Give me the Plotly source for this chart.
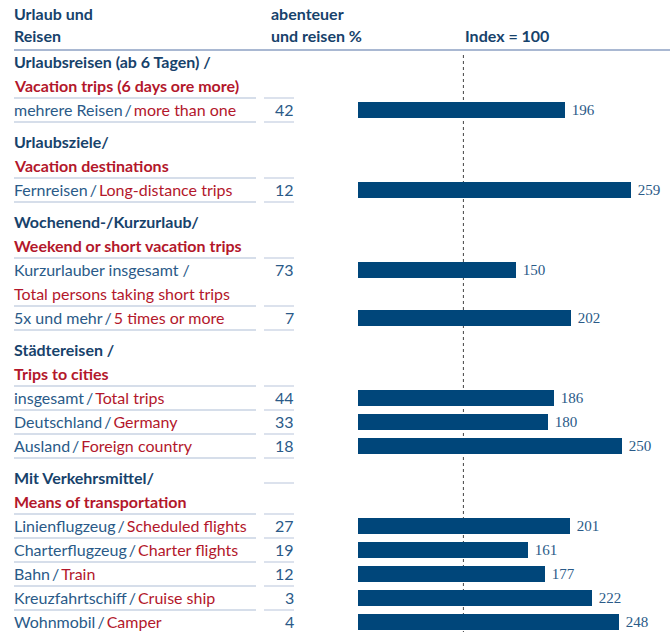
import plotly.graph_objects as go

# ---- data ----
section_de = ["Urlaubsreisen (ab 6 Tagen) /", "Urlaubsziele/", "Wochenend-/Kurzurlaub/",
              "Städtereisen /", "Mit Verkehrsmittel/"]
section_en = ["Vacation trips (6 days ore more)", "Vacation destinations",
              "Weekend or short vacation trips", "Trips to cities", "Means of transportation"]
row_section = [0, 1, 2, 2, 3, 3, 3, 4, 4, 4, 4, 4]
row_de = ["mehrere Reisen", "Fernreisen", "Kurzurlauber insgesamt", "5x und mehr",
          "insgesamt", "Deutschland", "Ausland",
          "Linienflugzeug", "Charterflugzeug", "Bahn", "Kreuzfahrtschiff", "Wohnmobil"]
row_en = ["more than one", "Long-distance trips", "Total persons taking short trips",
          "5 times or more", "Total trips", "Germany", "Foreign country",
          "Scheduled flights", "Charter flights", "Train", "Cruise ship", "Camper"]
row_wrap = [False, False, True, False, False, False, False, False, False, False, False, False]
row_pct = [42, 12, 73, 7, 44, 33, 18, 27, 19, 12, 3, 4]
row_index = [196, 259, 150, 202, 186, 180, 250, 201, 161, 177, 222, 248]
header_left = ["Urlaub und", "Reisen"]
header_mid = ["abenteuer", "und reisen %"]
header_right = "Index = 100"
index_base = 100

# ---- styling / layout ----
W, H = 670, 632
BLUE = "#2a5a88"
NAVY = "#17426b"
RED = "#b3172b"
BAR = "#00467a"
SEP = "#c9d3e3"
FONT = "Lato"
FS = 16
LINE, GAP, TOP = 24, 8, 62
X_TEXT = 12
X_LEFT, X_LEFT_END = 14, 256
X_NUM0, X_NUM1 = 264, 294
X_BAR0 = 358
PX_PER_UNIT = 1.054

def px(x):
    return x / W

annotations = []
shapes = []

def text(x, y, s, color, bold=False, anchor="left", font=FONT, size=FS):
    annotations.append(dict(
        x=px(x), xref="paper", y=y, yref="y", text=("<b>%s</b>" % s) if bold else s,
        showarrow=False, xanchor=anchor, yanchor="middle", yshift=1,
        font=dict(family=font, size=size, color=color)))

def sep(y, left=True, num=True, color=SEP, width=1.3):
    if left:
        shapes.append(dict(type="line", xref="paper", yref="y", x0=px(X_LEFT), x1=px(X_LEFT_END),
                           y0=y, y1=y, line=dict(color=color, width=width)))
    if num:
        shapes.append(dict(type="line", xref="paper", yref="y", x0=px(X_NUM0), x1=px(X_NUM1),
                           y0=y, y1=y, line=dict(color=color, width=width)))

SLASH = "\u2009/\u2009"

bar_y = []
y = TOP
for si in range(len(section_de)):
    text(X_TEXT, y, section_de[si], NAVY, bold=True)
    text(X_TEXT, y + LINE, section_en[si], RED, bold=True)
    if si == len(section_de) - 1:
        sep(y + 5, left=False)
    sep(y + LINE + 12)
    y += 2 * LINE
    for ri in [i for i, s in enumerate(row_section) if s == si]:
        bar_y.append(y)
        if row_wrap[ri]:
            text(X_TEXT, y, row_de[ri] + " /", BLUE)
            text(X_TEXT, y + LINE, row_en[ri], RED)
            last = y + LINE
        else:
            text(X_TEXT, y, '%s<span style="color:%s">%s</span><span style="color:%s">%s</span>'
                 % (row_de[ri], BLUE, SLASH, RED, row_en[ri]), BLUE)
            last = y
        text(X_NUM1 + 2, y, str(row_pct[ri]), BLUE, anchor="right")
        sep(last + 12)
        y = last + LINE
    y += GAP

# header
text(X_TEXT, 14, header_left[0], NAVY, bold=True)
text(X_TEXT, 36, header_left[1], NAVY, bold=True)
text(269, 14, header_mid[0], NAVY, bold=True)
text(269, 36, header_mid[1], NAVY, bold=True)
text(463, 36, header_right, NAVY, bold=True)
shapes.append(dict(type="line", xref="paper", yref="y", x0=px(X_LEFT), x1=1, y0=50, y1=50,
                   line=dict(color="#a9b8d2", width=2)))

# index = 100 dotted line
shapes.append(dict(type="line", xref="x", yref="y", x0=index_base, x1=index_base, y0=55, y1=H,
                   line=dict(color="#444444", width=1, dash="dot"), layer="below"))

fig = go.Figure()
fig.add_trace(go.Bar(
    x=row_index, y=bar_y, orientation="h", width=16,
    marker=dict(color=BAR, line=dict(width=0)),
    text=[" " + str(v) for v in row_index], textposition="outside",
    textfont=dict(family="Liberation Serif", size=16, color=BLUE),
    cliponaxis=False, hoverinfo="skip"))

fig.update_layout(
    width=W, height=H, margin=dict(l=0, r=0, t=0, b=0),
    paper_bgcolor="white", plot_bgcolor="rgba(0,0,0,0)",
    showlegend=False, bargap=0,
    xaxis=dict(domain=[px(X_BAR0), 1], range=[0, (W - X_BAR0) / PX_PER_UNIT],
               visible=False, fixedrange=True),
    yaxis=dict(domain=[0, 1], range=[H, 0], visible=False, fixedrange=True),
    annotations=annotations, shapes=shapes,
)

fig.write_html("out.html", config={"displayModeBar": False},
               post_script="document.body.style.margin='0';document.body.style.overflow='hidden';")
